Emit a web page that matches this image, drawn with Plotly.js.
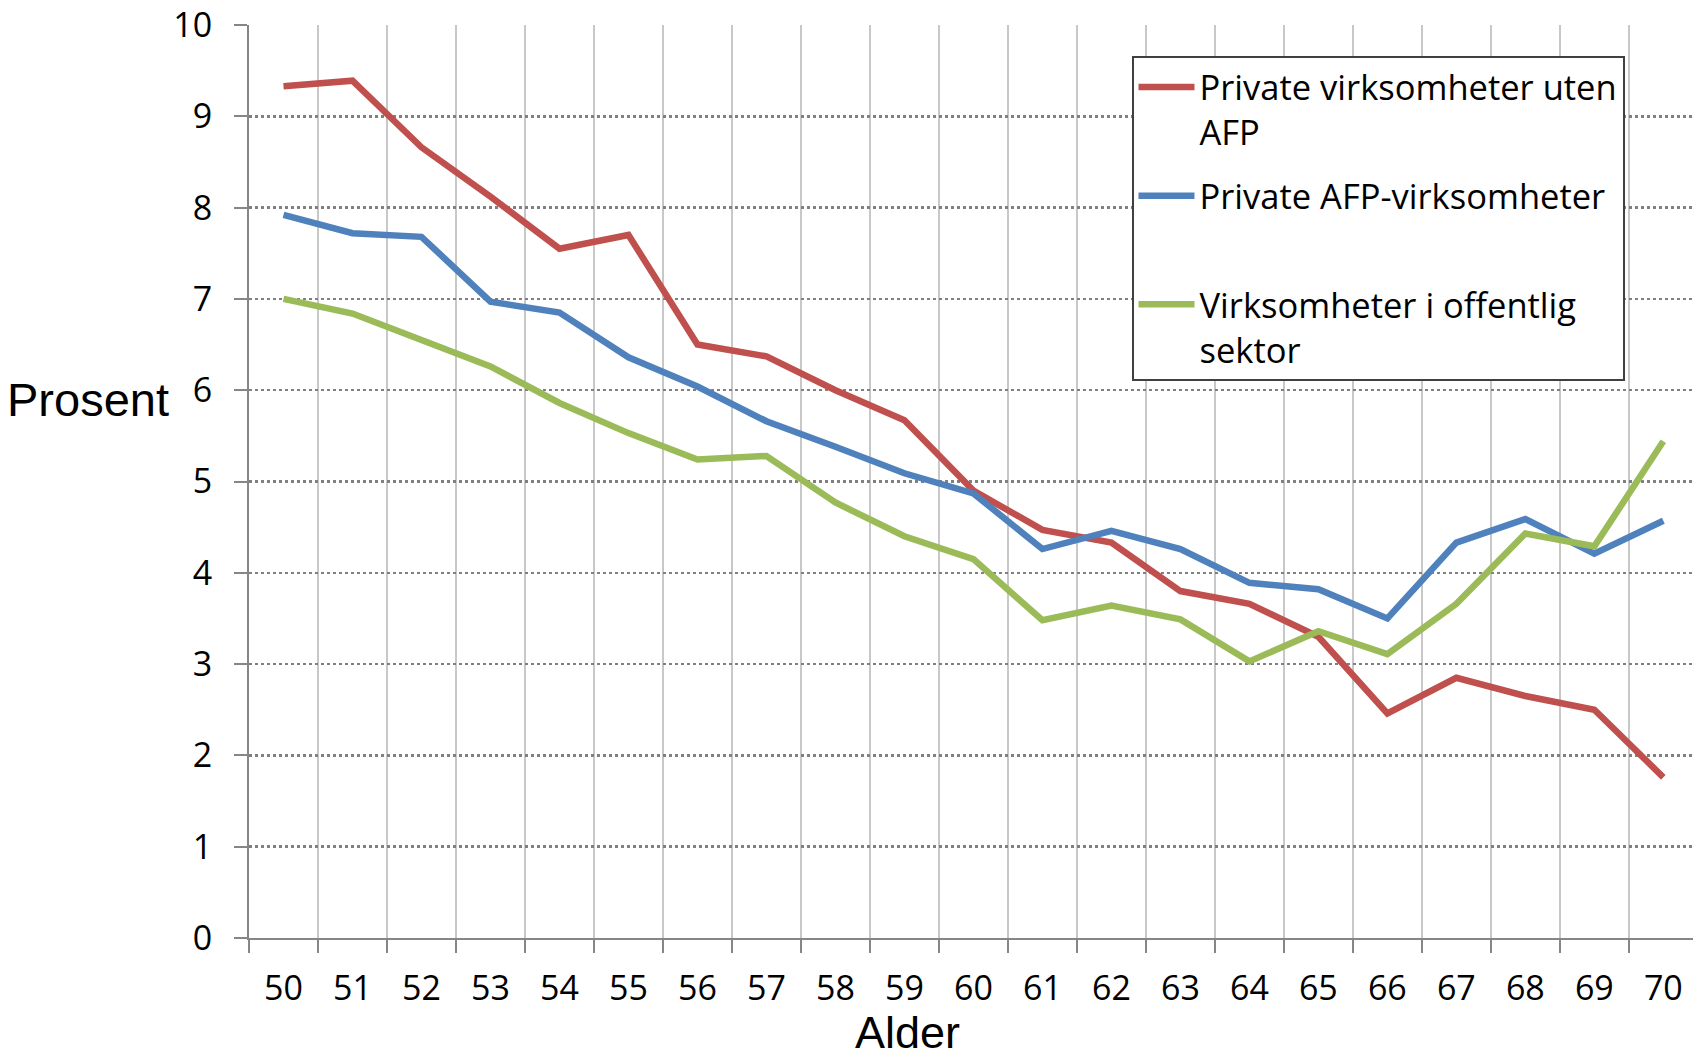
<!DOCTYPE html>
<html>
<head>
<meta charset="utf-8">
<script src="https://cdn.plot.ly/plotly-3.0.1.min.js"></script>
<style>
  html, body { margin: 0; padding: 0; background: #ffffff; }
  #chart { width: 1693px; height: 1059px; }
</style>
</head>
<body>
<div id="chart"></div>
<script>
const ages = ["50","51","52","53","54","55","56","57","58","59","60","61","62","63","64","65","66","67","68","69","70"];
const privateUtenAFP = [9.33, 9.39, 8.66, 8.12, 7.55, 7.70, 6.50, 6.37, 6.00, 5.67, 4.90, 4.47, 4.33, 3.80, 3.66, 3.30, 2.46, 2.85, 2.65, 2.50, 1.76];
const privateAFP = [7.92, 7.72, 7.68, 6.97, 6.85, 6.36, 6.04, 5.66, 5.38, 5.09, 4.87, 4.26, 4.46, 4.26, 3.89, 3.82, 3.50, 4.33, 4.59, 4.21, 4.57];
const offentlig = [7.00, 6.84, 6.55, 6.26, 5.86, 5.53, 5.24, 5.28, 4.77, 4.40, 4.15, 3.48, 3.64, 3.49, 3.03, 3.36, 3.11, 3.66, 4.43, 4.29, 5.44];
const seriesNames = ["Private virksomheter uten<br>AFP", "Private AFP-virksomheter<br> ", "Virksomheter i offentlig<br>sektor"];
const yTicks = [0,1,2,3,4,5,6,7,8,9,10];

const colors = ["#C0504D", "#4F81BD", "#9BBB59"];
const series = [privateUtenAFP, privateAFP, offentlig];

const traces = series.map((vals, i) => ({
  type: "scatter",
  mode: "lines",
  x: ages,
  y: vals,
  name: seriesNames[i],
  legendgroup: "g" + i,
  line: { color: colors[i], width: 6.5 },
  hoverinfo: "x+y"
}));

const tickFont = { family: "Open Sans, Lato, sans-serif", size: 34, color: "#000000" };

const layout = {
  width: 1693,
  height: 1059,
  margin: { l: 249, r: 0, t: 25, b: 121, pad: 0 },
  paper_bgcolor: "#ffffff",
  plot_bgcolor: "#ffffff",
  showlegend: true,
  xaxis: {
    type: "category",
    range: [-0.5, 20.43],
    tickson: "boundaries",
    showgrid: true,
    gridcolor: "#c8c8c8",
    gridwidth: 2,
    ticks: "outside",
    ticklen: 13,
    tickwidth: 2,
    tickcolor: "#868686",
    showline: true,
    linecolor: "#868686",
    linewidth: 2,
    tickfont: tickFont,
    ticklabelstandoff: 19,
    zeroline: false,
    fixedrange: true
  },
  yaxis: {
    range: [0, 10],
    tickvals: yTicks,
    showgrid: true,
    gridcolor: "#808080",
    gridwidth: 2.5,
    griddash: "dot",
    ticks: "outside",
    ticklen: 13,
    tickwidth: 2,
    tickcolor: "#868686",
    showline: true,
    linecolor: "#868686",
    linewidth: 2,
    zeroline: false,
    tickfont: tickFont,
    ticklabelstandoff: 15,
    fixedrange: true
  },
  legend: {
    x: (1131.5 - 249) / 1444,
    y: (938 - 56) / 913,
    xanchor: "left",
    yanchor: "top",
    bgcolor: "#ffffff",
    bordercolor: "#404040",
    borderwidth: 2,
    valign: "top",
    itemwidth: 56,
    tracegroupgap: 16,
    traceorder: "grouped",
    font: { family: "Open Sans, Lato, sans-serif", size: 34.5, color: "#000000" }
  },
  annotations: [
    {
      text: "Prosent",
      xref: "paper", yref: "paper",
      x: (5 - 249) / 1444, y: (938 - 399) / 913,
      xanchor: "left", yanchor: "middle",
      showarrow: false,
      font: { family: "Liberation Sans, Arial, sans-serif", size: 47, color: "#000000" }
    },
    {
      text: "Alder",
      xref: "paper", yref: "paper",
      x: (907 - 249) / 1444, y: (938 - 1059) / 913,
      xanchor: "center", yanchor: "bottom",
      borderpad: 0,
      showarrow: false,
      font: { family: "Liberation Sans, Arial, sans-serif", size: 45, color: "#000000" }
    }
  ]
};

Plotly.newPlot("chart", traces, layout, { displayModeBar: false, staticPlot: true });
</script>
</body>
</html>
